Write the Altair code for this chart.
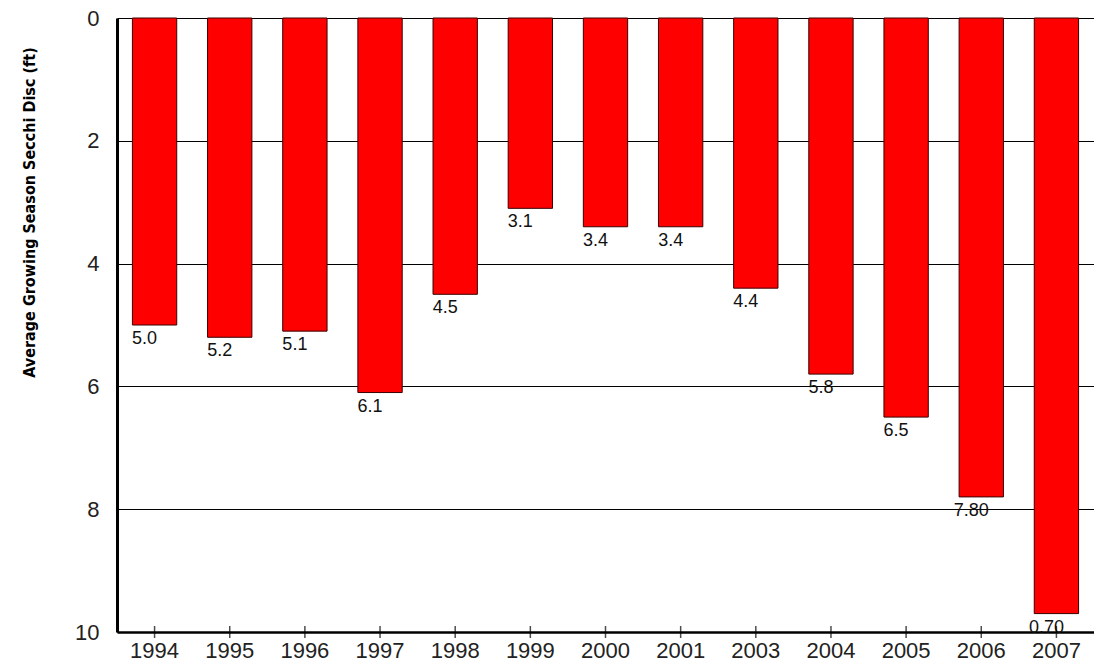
import altair as alt
import pandas as pd

years = ["1994", "1995", "1996", "1997", "1998", "1999", "2000", "2001",
         "2003", "2004", "2005", "2006", "2007"]
secchi = [5.0, 5.2, 5.1, 6.1, 4.5, 3.1, 3.4, 3.4, 4.4, 5.8, 6.5, 7.8, 9.7]
labels = ["5.0", "5.2", "5.1", "6.1", "4.5", "3.1", "3.4", "3.4", "4.4",
          "5.8", "6.5", "7.80", "0.70"]
y_ticks = [0, 2, 4, 6, 8, 10]

df = pd.DataFrame({"year": years, "value": secchi, "label": labels})

x_enc = alt.X("year:N", sort=years,
              scale=alt.Scale(paddingInner=0.41, paddingOuter=0.205),
              axis=alt.Axis(title=None, labelAngle=0, labelFontSize=22,
                            labelFont="Liberation Sans", labelColor="#222",
                            labelPadding=8, ticks=False, domainColor="black",
                            domainWidth=2.5, grid=False))

y_scale = alt.Scale(domain=[0, 10], reverse=True, nice=False)

bars = alt.Chart(df).mark_bar(color="#ff0000", stroke="#3a0000",
                              strokeWidth=1).encode(
    x=x_enc,
    y=alt.Y("value:Q", scale=y_scale,
            axis=alt.Axis(values=y_ticks, format="d",
                          title="Average Growing Season Secchi Disc (ft)",
                          titleFont="DejaVu Sans Condensed, Liberation Sans",
                          titleFontSize=16,
                          titleFontWeight="bold", titleColor="black",
                          titleAngle=270, titleAlign="center", titleBaseline="middle",
                          titleX=-88, titleY=194,
                          labelFontSize=22, labelFont="Liberation Sans",
                          labelColor="#222", labelPadding=18, ticks=False,
                          grid=True, gridColor="black", gridWidth=1, gridOpacity=1,
                          domainColor="black", domainWidth=3)),
)

texts = alt.Chart(df).mark_text(dx=-10, dy=14, fontSize=18,
                                font="Liberation Sans", color="#111",
                                baseline="middle", align="center").encode(
    x=alt.X("year:N", sort=years),
    y=alt.Y("value:Q", scale=y_scale),
    text="label:N",
)

ticks = alt.Chart(df).mark_tick(orient="vertical", size=12, thickness=1.5,
                                color="black").encode(
    x=alt.X("year:N", sort=years),
    y=alt.YDatum(10),
)

chart = alt.layer(bars, texts, ticks).properties(
    width=977, height=614,
    padding={"left": 117, "top": 18, "right": 0, "bottom": 33},
    autosize=alt.AutoSizeParams(type="none"),
    background="white",
).configure_view(stroke=None)

chart.save("out.html", embed_options={"renderer": "svg", "actions": False})
